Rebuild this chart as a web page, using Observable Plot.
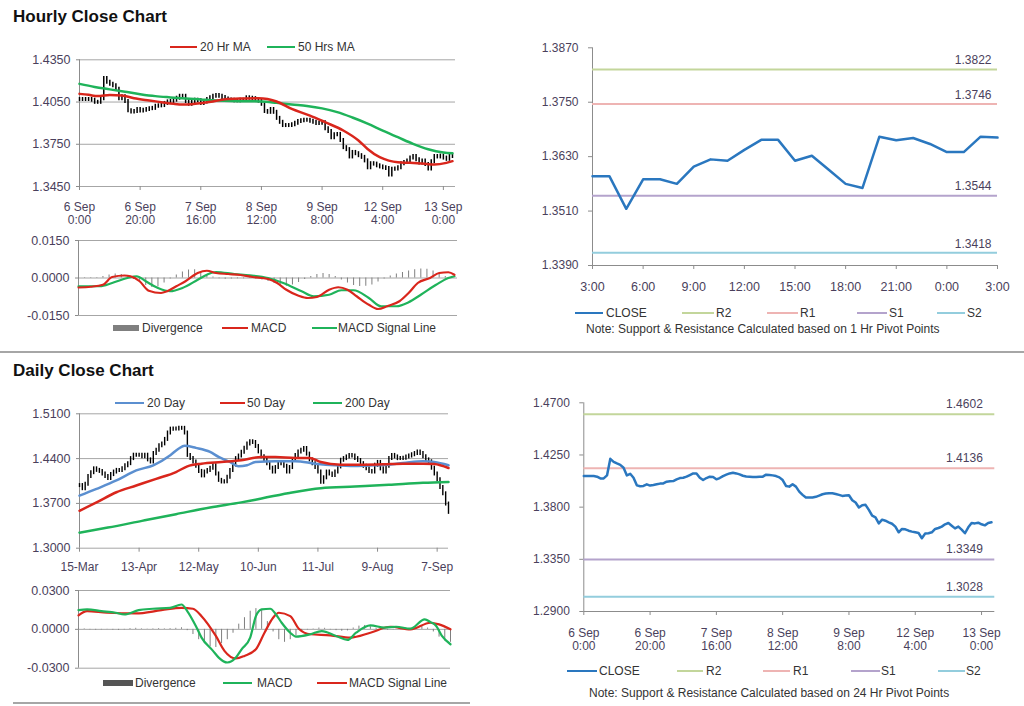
<!DOCTYPE html>
<html><head><meta charset="utf-8">
<script src="https://cdn.jsdelivr.net/npm/d3@7"></script>
<script src="https://cdn.jsdelivr.net/npm/@observablehq/plot@0.6"></script>
<style>
body{margin:0;width:1024px;height:706px;position:relative;background:#fff;font-family:"Liberation Sans",Arial,sans-serif;overflow:hidden}
.abs{position:absolute}
.title{position:absolute;font-weight:bold;font-size:17px;line-height:17px;color:#111;white-space:nowrap}
.lt{position:absolute;font-size:12px;line-height:14px;height:14px;color:#333;white-space:nowrap}
.ln{position:absolute;height:2px}
.sep{position:absolute;height:2px;background:#a6a6a6}
</style></head><body>
<script>
// ---------------- DATA ----------------
// Hourly close, 6 Sep 0:00 .. 13 Sep ~3:00 (124 hours)
const hourClose = [1.4068,1.4068,1.4068,1.4068,1.4063,1.4048,1.4048,1.4074,1.4217,1.4191,
1.4177,1.4165,1.4140,1.4074,1.4088,1.4054,1.3988,1.3980,1.3983,1.3997,
1.3986,1.3991,1.3997,1.4003,1.4005,1.4020,1.4023,1.4025,1.4040,1.4051,
1.4054,1.4063,1.4077,1.4091,1.4091,1.4054,1.4034,1.4051,1.4063,1.4060,
1.4040,1.4051,1.4068,1.4080,1.4091,1.4097,1.4091,1.4083,1.4071,1.4065,
1.4063,1.4060,1.4060,1.4063,1.4063,1.4080,1.4077,1.4074,1.4068,1.4057,
1.4034,1.3983,1.3977,1.3997,1.3977,1.3934,1.3906,1.3883,1.3883,1.3883,
1.3889,1.3900,1.3911,1.3917,1.3920,1.3920,1.3914,1.3906,1.3897,1.3900,
1.3903,1.3860,1.3840,1.3797,1.3817,1.3820,1.3777,1.3726,1.3712,1.3660,
1.3692,1.3683,1.3669,1.3657,1.3632,1.3583,1.3612,1.3609,1.3597,1.3589,
1.3583,1.3577,1.3532,1.3572,1.3575,1.3583,1.3612,1.3620,1.3632,1.3652,
1.3663,1.3640,1.3617,1.3632,1.3606,1.3575,1.3626,1.3663,1.3660,1.3666,
1.3652,1.3643,1.3663,1.3669];
const hourTickIdx = [0,20,40,60,80,100,120];
const hourTickLabels = ["6 Sep\n0:00","6 Sep\n20:00","7 Sep\n16:00","8 Sep\n12:00","9 Sep\n8:00","12 Sep\n4:00","13 Sep\n0:00"];
const hourPriceTicks = [1.3450,1.3750,1.4050,1.4350];

const hrMA20Idx = [0,3,6,10,14,18,23,27,31,34,37,40,44,48,54,59,62,65,70,76,81,87,92,95,99,102,105,109,114,117,121,123];
const hrMA20 = [1.4108,1.4101,1.4092,1.4100,1.4096,1.4077,1.4061,1.4049,1.4037,1.4032,1.4035,1.4042,1.4054,1.4070,1.4075,1.4077,1.4072,1.4054,1.4001,1.3954,1.3907,1.3848,1.3777,1.3717,1.3658,1.3634,1.3622,1.3618,1.3611,1.3606,1.3618,1.3630];
const hrMA50Idx = [0,5,10,15,20,25,30,35,40,45,50,55,60,65,70,75,80,85,90,95,100,105,110,115,120,123];
const hrMA50 = [1.4179,1.4157,1.4140,1.4123,1.4106,1.4092,1.4083,1.4075,1.4068,1.4061,1.4057,1.4056,1.4054,1.4044,1.4032,1.4022,1.4005,1.3978,1.3940,1.3897,1.3847,1.3800,1.3753,1.3715,1.3692,1.3686];

const hrMacdIdx = [0,4,8,11,15,17,20,23,27,29,32,35,39,42,45,49,53,57,62,65,68,72,75,78,82,85,88,91,95,98,101,105,108,111,115,118,121,123];
const hrMacd = [-0.0038,-0.0035,-0.0027,0.0004,0.0010,0.0007,-0.0013,-0.0051,-0.0060,-0.0053,-0.0033,-0.0013,0.0020,0.0029,0.0020,0.0016,0.0012,0.0004,-0.0004,-0.0020,-0.0047,-0.0071,-0.0080,-0.0076,-0.0047,-0.0037,-0.0047,-0.0073,-0.0107,-0.0124,-0.0113,-0.0093,-0.0060,-0.0020,0.0000,0.0020,0.0023,0.0013];
const hrSigIdx = [0,7,11,16,19,22,26,30,34,39,42,45,51,56,62,67,73,77,82,86,90,95,99,104,108,112,117,121,123];
const hrSig = [-0.0033,-0.0033,-0.0020,0.0000,0.0007,-0.0013,-0.0040,-0.0053,-0.0040,-0.0007,0.0013,0.0024,0.0016,0.0011,0.0000,-0.0020,-0.0053,-0.0073,-0.0067,-0.0049,-0.0049,-0.0080,-0.0113,-0.0113,-0.0097,-0.0067,-0.0027,0.0000,0.0007];
const hrDiv = [-0.0003,-0.0002,-0.0002,0.0002,0.0006,0.0012,0.0016,0.0014,0.0005,-0.0006,
-0.0018,-0.0030,-0.0038,-0.0036,-0.0020,-0.0004,0.0012,0.0024,0.0032,0.0033,
0.0026,0.0014,0.0004,-0.0003,-0.0005,-0.0004,-0.0003,-0.0003,-0.0002,-0.0004,
-0.0008,-0.0014,-0.0022,-0.0030,-0.0033,-0.0028,-0.0018,-0.0006,0.0006,0.0014,
0.0018,0.0014,0.0006,-0.0008,-0.0020,-0.0030,-0.0034,-0.0033,-0.0028,-0.0016,
-0.0004,0.0008,0.0016,0.0022,0.0028,0.0033,0.0036,0.0035,0.0028,0.0016,
0.0006,-0.0002];
const hrDivIdx = d3.range(0, 124, 2);
const hrMacdTicks = [-0.015, 0, 0.015];

// 1-hour pivot chart (12 Sep 3:00 .. 13 Sep 3:00)
const pivot1hClose = [1.3587,1.3587,1.3515,1.3580,1.3580,1.3570,1.3608,1.3624,1.3621,1.3645,
1.3667,1.3667,1.3621,1.3632,1.3601,1.3570,1.3561,1.3674,1.3666,1.3671,1.3658,1.3640,1.3640,1.3674,1.3672];
const pivot1hTickIdx = [0,3,6,9,12,15,18,21,24];
const pivot1hTickLabels = ["3:00","6:00","9:00","12:00","15:00","18:00","21:00","0:00","3:00"];
const pivot1hTicks = [1.3390,1.3510,1.3630,1.3750,1.3870];
const pivot1hLevels = [1.3822,1.3746,1.3544,1.3418];   // R2, R1, S1, S2

// 24-hour pivot chart
const pivot24Ticks = [1.2900,1.3350,1.3800,1.4250,1.4700];
const pivot24Levels = [1.4602,1.4136,1.3349,1.3028];  // R2, R1, S1, S2
const levelNames = ["R2","R1","S1","S2"];
const levelColors = ["#c3d69b","#eeb4b3","#b4a3cc","#93cddd"];

// Daily close, 15 Mar .. 13 Sep (131 trading days)
const dayClose = [1.3979,1.3930,1.4000,1.4120,1.4180,1.4240,1.4216,1.4200,1.4160,1.4120,
1.4090,1.4150,1.4190,1.4216,1.4216,1.4240,1.4290,1.4321,1.4400,1.4453,
1.4453,1.4453,1.4430,1.4453,1.4380,1.4347,1.4480,1.4530,1.4600,1.4630,
1.4700,1.4800,1.4860,1.4863,1.4863,1.4873,1.4873,1.4800,1.4450,1.4400,
1.4347,1.4280,1.4200,1.4130,1.4190,1.4216,1.4250,1.4290,1.4160,1.4060,
1.4035,1.4040,1.4110,1.4216,1.4300,1.4400,1.4440,1.4500,1.4560,1.4630,
1.4663,1.4652,1.4590,1.4505,1.4430,1.4374,1.4320,1.4250,1.4190,1.4260,
1.4321,1.4321,1.4280,1.4190,1.4260,1.4380,1.4450,1.4505,1.4532,1.4558,
1.4470,1.4380,1.4321,1.4260,1.4190,1.4030,1.4100,1.4190,1.4160,1.4137,
1.4190,1.4270,1.4374,1.4400,1.4426,1.4450,1.4440,1.4400,1.4370,1.4321,
1.4280,1.4242,1.4200,1.4190,1.4295,1.4340,1.4240,1.4190,1.4280,1.4400,
1.4450,1.4426,1.4400,1.4400,1.4405,1.4426,1.4440,1.4460,1.4479,1.4505,
1.4479,1.4430,1.4380,1.4350,1.4250,1.4160,1.4070,1.3950,1.3850,1.3690,1.3560];
const dayTickIdx = [0,21,42,63,84,105,126];
const dayTickLabels = ["15-Mar","13-Apr","12-May","10-Jun","11-Jul","9-Aug","7-Sep"];
const dayPriceTicks = [1.3000,1.3700,1.4400,1.5100];

const d20Idx = [0,6,13,20,26,32,35,37,41,46,49,53,56,59,62,69,76,83,90,97,104,109,115,121,125,130];
const d20 = [1.3821,1.3927,1.4058,1.4216,1.4295,1.4453,1.4558,1.4600,1.4568,1.4505,1.4426,1.4347,1.4279,1.4295,1.4347,1.4358,1.4358,1.4321,1.4295,1.4284,1.4295,1.4305,1.4337,1.4358,1.4347,1.4295];
const d50Idx = [0,6,13,20,27,34,38,43,50,57,64,69,76,81,85,92,100,107,114,121,125,130];
const d50 = [1.3585,1.3716,1.3874,1.3979,1.4084,1.4190,1.4279,1.4321,1.4347,1.4374,1.4426,1.4426,1.4411,1.4411,1.4347,1.4305,1.4305,1.4310,1.4321,1.4321,1.4315,1.4253];
const d200Idx = [0,10,22,34,46,57,62,66,74,85,97,109,121,130];
const d200 = [1.3243,1.3322,1.3427,1.3532,1.3637,1.3716,1.3758,1.3795,1.3863,1.3937,1.3963,1.3990,1.4021,1.4035];

const dMacdIdx = [0,3,8,13,16,21,26,32,36,38,41,43,47,49,52,55,57,60,62,64,67,69,71,74,76,81,85,90,94,97,102,107,111,116,121,123,125,127,130];
const dMacd = [0.0148,0.0154,0.0141,0.0128,0.0115,0.0148,0.0159,0.0166,0.0192,0.0141,0.0026,-0.0064,-0.0166,-0.0218,-0.0256,-0.0218,-0.0154,-0.0064,0.0102,0.0154,0.0159,0.0115,0.0051,-0.0026,-0.0056,-0.0038,-0.0013,-0.0051,-0.0082,-0.0026,0.0031,0.0013,0.0020,0.0005,0.0077,0.0056,0.0026,-0.0051,-0.0115];
const dSigIdx = [0,3,10,20,29,36,40,43,48,51,55,58,62,65,68,70,74,77,81,88,95,102,109,116,123,126,130];
const dSig = [0.0108,0.0141,0.0128,0.0123,0.0148,0.0166,0.0159,0.0102,-0.0051,-0.0166,-0.0225,-0.0205,-0.0154,-0.0026,0.0090,0.0128,0.0102,0.0005,-0.0038,-0.0046,-0.0064,-0.0026,0.0020,0.0000,0.0051,0.0038,0.0000];
const dDiv = [0.0010,0.0004,-0.0004,-0.0006,-0.0004,-0.0002,-0.0006,-0.0008,-0.0004,0.0006,
0.0008,0.0004,0.0002,0.0004,0.0006,0.0004,0.0006,0.0008,0.0012,-0.0010,
-0.0040,-0.0080,-0.0110,-0.0135,-0.0140,-0.0110,-0.0080,-0.0030,0.0040,0.0090,
0.0140,0.0160,0.0150,0.0060,-0.0020,-0.0080,-0.0100,-0.0080,-0.0050,-0.0020,
-0.0005,0.0003,0.0010,0.0008,-0.0004,-0.0010,-0.0015,-0.0012,0.0010,0.0025,
0.0030,0.0020,0.0008,-0.0004,-0.0006,-0.0003,0.0004,0.0010,0.0005,0.0012,
0.0020,0.0010,-0.0020,-0.0060,-0.0090,-0.0100];
const dDivIdx = d3.range(0, 131, 2);
const dMacdTicks = [-0.03, 0, 0.03];

// ---------------- HELPERS ----------------
const TXT = "#4a3f5c", AX = "#8c8c8c", GRID = "#a6a6a6";
const RED = "#d9261c", GREEN = "#1fb35a", BLUE = "#2a77bf", LBLUE = "#5b8fd0", GRAY = "#7f7f7f";
const style = {fontFamily:'"Liberation Sans", Arial, sans-serif', fontSize:"12px", color:TXT, background:"transparent", overflow:"visible"};
const rows = (idx, vals) => idx.map((x, i) => ({x, y: vals[i]}));
const fmt4 = d => d.toFixed(4);
function place(node, left, top) { node.style.position = "absolute"; node.style.left = left + "px"; node.style.top = top + "px"; document.body.appendChild(node); }
function div(cls, left, top, text) { const d = document.createElement("div"); d.className = cls; d.style.left = left + "px"; d.style.top = top + "px"; if (text != null) d.textContent = text; document.body.appendChild(d); return d; }
function legend(yc, items) {
  for (const it of items) {
    const s = div("ln", it.x1, yc - (it.h || 2) / 2);
    s.style.width = (it.x2 - it.x1) + "px"; s.style.height = (it.h || 2) + "px"; s.style.background = it.color;
    div("lt", it.tx, yc - 7, it.label);
  }
}
function barsPrevClose(close, w) {
  const idx = d3.range(close.length);
  return Plot.ruleX(idx, {x: i => i,
    y1: i => Math.max(close[Math.max(0, i - 1)], close[i]),
    y2: i => Math.min(close[Math.max(0, i - 1)], close[i]),
    stroke: "#000", strokeWidth: w, insetTop: -2, insetBottom: -2});
}
const yAxisL = (ticks) => Plot.axisY({ticks, tickFormat: fmt4, tickSize: 3, tickPadding: 6, stroke: AX, fill: TXT, label: null, fontSize: 12.5});
const yAxisR = (ticks) => Plot.axisY({ticks, tickFormat: fmt4, tickSize: 4, tickPadding: 10, stroke: AX, fill: TXT, label: null});

// ---------------- TEXT ----------------
div("title", 13, 8, "Hourly Close Chart");
div("title", 13, 362, "Daily Close Chart");
div("sep", 0, 351).style.width = "1024px";
div("sep", 13, 702).style.width = "457px";

// ---------------- A: hourly price ----------------
place(Plot.plot({
  width: 470, height: 180, marginLeft: 79, marginRight: 15, marginTop: 9.3, marginBottom: 44, style,
  x: {domain: [0, 124]}, y: {domain: [1.345, 1.435]},
  marks: [
    Plot.ruleY(hourPriceTicks, {stroke: GRID}),
    Plot.ruleX([0], {stroke: AX}),
    yAxisL(hourPriceTicks),
    Plot.axisX({ticks: hourTickIdx, tickFormat: d => hourTickLabels[hourTickIdx.indexOf(d)], tickSize: 4, tickPadding: 11, stroke: AX, fill: TXT, lineHeight: 1.1, label: null}),
    barsPrevClose(hourClose, 1.5),
    Plot.line(rows(hrMA50Idx, hrMA50), {x: "x", y: "y", stroke: GREEN, strokeWidth: 2.5, curve: "monotone-x"}),
    Plot.line(rows(hrMA20Idx, hrMA20), {x: "x", y: "y", stroke: RED, strokeWidth: 2.5, curve: "monotone-x"})
  ]
}), 0, 50);
legend(47, [
  {x1: 170, x2: 197, color: RED, tx: 200, label: "20 Hr MA"},
  {x1: 267, x2: 295, color: GREEN, tx: 298, label: "50 Hrs MA"}
]);

// ---------------- B: hourly MACD ----------------
place(Plot.plot({
  width: 470, height: 90, marginLeft: 78, marginRight: 13, marginTop: 8, marginBottom: 7, style,
  x: {domain: [0, 124], axis: null}, y: {domain: [-0.015, 0.015]},
  marks: [
    Plot.ruleY(hrMacdTicks, {stroke: GRID}),
    Plot.ruleX([0], {stroke: AX}),
    yAxisL(hrMacdTicks),
    Plot.ruleX(hrDivIdx, {x: d => d, y1: 0, y2: (d, i) => hrDiv[i], stroke: GRAY, strokeWidth: 1}),
    Plot.line(rows(hrSigIdx, hrSig), {x: "x", y: "y", stroke: GREEN, strokeWidth: 2.2, curve: "monotone-x"}),
    Plot.line(rows(hrMacdIdx, hrMacd), {x: "x", y: "y", stroke: RED, strokeWidth: 2.2, curve: "monotone-x"})
  ]
}), 0, 232);
legend(328, [
  {x1: 113, x2: 139, h: 6, color: GRAY, tx: 142, label: "Divergence"},
  {x1: 222, x2: 248, color: RED, tx: 251, label: "MACD"},
  {x1: 312, x2: 337, color: GREEN, tx: 338, label: "MACD Signal Line"}
]);

// ---------------- C: 1 hr pivot ----------------
place(Plot.plot({
  width: 524, height: 270, marginLeft: 92, marginRight: 27, marginTop: 12.3, marginBottom: 40, style,
  x: {domain: [0, 24]}, y: {domain: [1.339, 1.387]},
  marks: [
    Plot.ruleX([0], {stroke: AX}),
    Plot.ruleY([1.339], {stroke: AX}),
    yAxisR(pivot1hTicks),
    Plot.axisX({ticks: pivot1hTickIdx, tickFormat: d => pivot1hTickLabels[pivot1hTickIdx.indexOf(d)], tickSize: 4, tickPadding: 13, stroke: AX, fill: TXT, label: null, fontSize: 12.5}),
    ...pivot1hLevels.map((v, i) => Plot.ruleY([v], {stroke: levelColors[i], strokeWidth: 2})),
    Plot.text(pivot1hLevels, {x: 24, y: d => d, text: fmt4, textAnchor: "end", dx: -6, dy: -9, fill: TXT}),
    Plot.line(pivot1hClose, {x: (d, i) => i, y: d => d, stroke: BLUE, strokeWidth: 2.5})
  ]
}), 500, 35);
legend(313, [
  {x1: 575, x2: 603, color: BLUE, tx: 606, label: "CLOSE"},
  ...levelNames.map((n, i) => ({x1: [682, 767, 857, 937][i], x2: [714, 798, 887, 965][i], color: levelColors[i], tx: [716, 800, 889, 967][i], label: n}))
]);
div("lt", 586, 322, "Note: Support & Resistance Calculated based on 1 Hr Pivot Points");

// ---------------- D: 24 hr pivot ----------------
place(Plot.plot({
  width: 524, height: 270, marginLeft: 83.3, marginRight: 29.7, marginTop: 12.3, marginBottom: 49, style,
  x: {domain: [0, 124]}, y: {domain: [1.29, 1.47]},
  marks: [
    Plot.ruleX([0], {stroke: AX}),
    Plot.ruleY([1.29], {stroke: AX}),
    yAxisR(pivot24Ticks),
    Plot.axisX({ticks: hourTickIdx, tickFormat: d => hourTickLabels[hourTickIdx.indexOf(d)], tickSize: 4, tickPadding: 12, stroke: AX, fill: TXT, lineHeight: 1.1, label: null}),
    ...pivot24Levels.map((v, i) => Plot.ruleY([v], {stroke: levelColors[i], strokeWidth: 2})),
    Plot.text(pivot24Levels, {x: 124, y: d => d, text: fmt4, textAnchor: "end", dx: -12, dy: -10, fill: TXT}),
    Plot.line(hourClose, {x: (d, i) => i, y: d => d, stroke: BLUE, strokeWidth: 2.5})
  ]
}), 500, 390);
legend(671, [
  {x1: 567, x2: 597, color: BLUE, tx: 599, label: "CLOSE"},
  ...levelNames.map((n, i) => ({x1: [677, 763, 851, 938][i], x2: [703, 790, 880, 965][i], color: levelColors[i], tx: [706, 793, 881, 966][i], label: n}))
]);
div("lt", 589, 686, "Note: Support & Resistance Calculated based on 24 Hr Pivot Points");

// ---------------- E: daily price ----------------
place(Plot.plot({
  width: 470, height: 170, marginLeft: 79, marginRight: 22, marginTop: 8.3, marginBottom: 27.3, style,
  x: {domain: [0, 130]}, y: {domain: [1.3, 1.51]},
  marks: [
    Plot.ruleY(dayPriceTicks, {stroke: GRID}),
    Plot.ruleX([0], {stroke: AX}),
    yAxisL(dayPriceTicks),
    Plot.axisX({ticks: dayTickIdx, tickFormat: d => dayTickLabels[dayTickIdx.indexOf(d)], tickSize: 4, tickPadding: 10, stroke: AX, fill: TXT, label: null}),
    barsPrevClose(dayClose, 1.4),
    Plot.line(rows(d200Idx, d200), {x: "x", y: "y", stroke: GREEN, strokeWidth: 2.5, curve: "monotone-x"}),
    Plot.line(rows(d20Idx, d20), {x: "x", y: "y", stroke: LBLUE, strokeWidth: 2.5, curve: "monotone-x"}),
    Plot.line(rows(d50Idx, d50), {x: "x", y: "y", stroke: RED, strokeWidth: 2.5, curve: "monotone-x"})
  ]
}), 0, 405);
legend(403, [
  {x1: 115, x2: 144, color: LBLUE, tx: 147, label: "20 Day"},
  {x1: 220, x2: 245, color: RED, tx: 247, label: "50 Day"},
  {x1: 313, x2: 342, color: GREEN, tx: 345, label: "200 Day"}
]);

// ---------------- F: daily MACD ----------------
place(Plot.plot({
  width: 470, height: 90, marginLeft: 78, marginRight: 20, marginTop: 7, marginBottom: 5.3, style,
  x: {domain: [0, 130], axis: null}, y: {domain: [-0.03, 0.03]},
  marks: [
    Plot.ruleY(dMacdTicks, {stroke: GRID}),
    Plot.ruleX([0], {stroke: AX}),
    yAxisL(dMacdTicks),
    Plot.ruleX(dDivIdx, {x: d => d, y1: 0, y2: (d, i) => dDiv[i], stroke: GRAY, strokeWidth: 1}),
    Plot.line(rows(dSigIdx, dSig), {x: "x", y: "y", stroke: RED, strokeWidth: 2.2, curve: "monotone-x"}),
    Plot.line(rows(dMacdIdx, dMacd), {x: "x", y: "y", stroke: GREEN, strokeWidth: 2.2, curve: "monotone-x"})
  ]
}), 0, 583);
legend(683, [
  {x1: 103, x2: 133, h: 6, color: "#555", tx: 135, label: "Divergence"},
  {x1: 223, x2: 252, color: GREEN, tx: 257, label: "MACD"},
  {x1: 317, x2: 347, color: RED, tx: 349, label: "MACD Signal Line"}
]);
</script>
</body></html>
